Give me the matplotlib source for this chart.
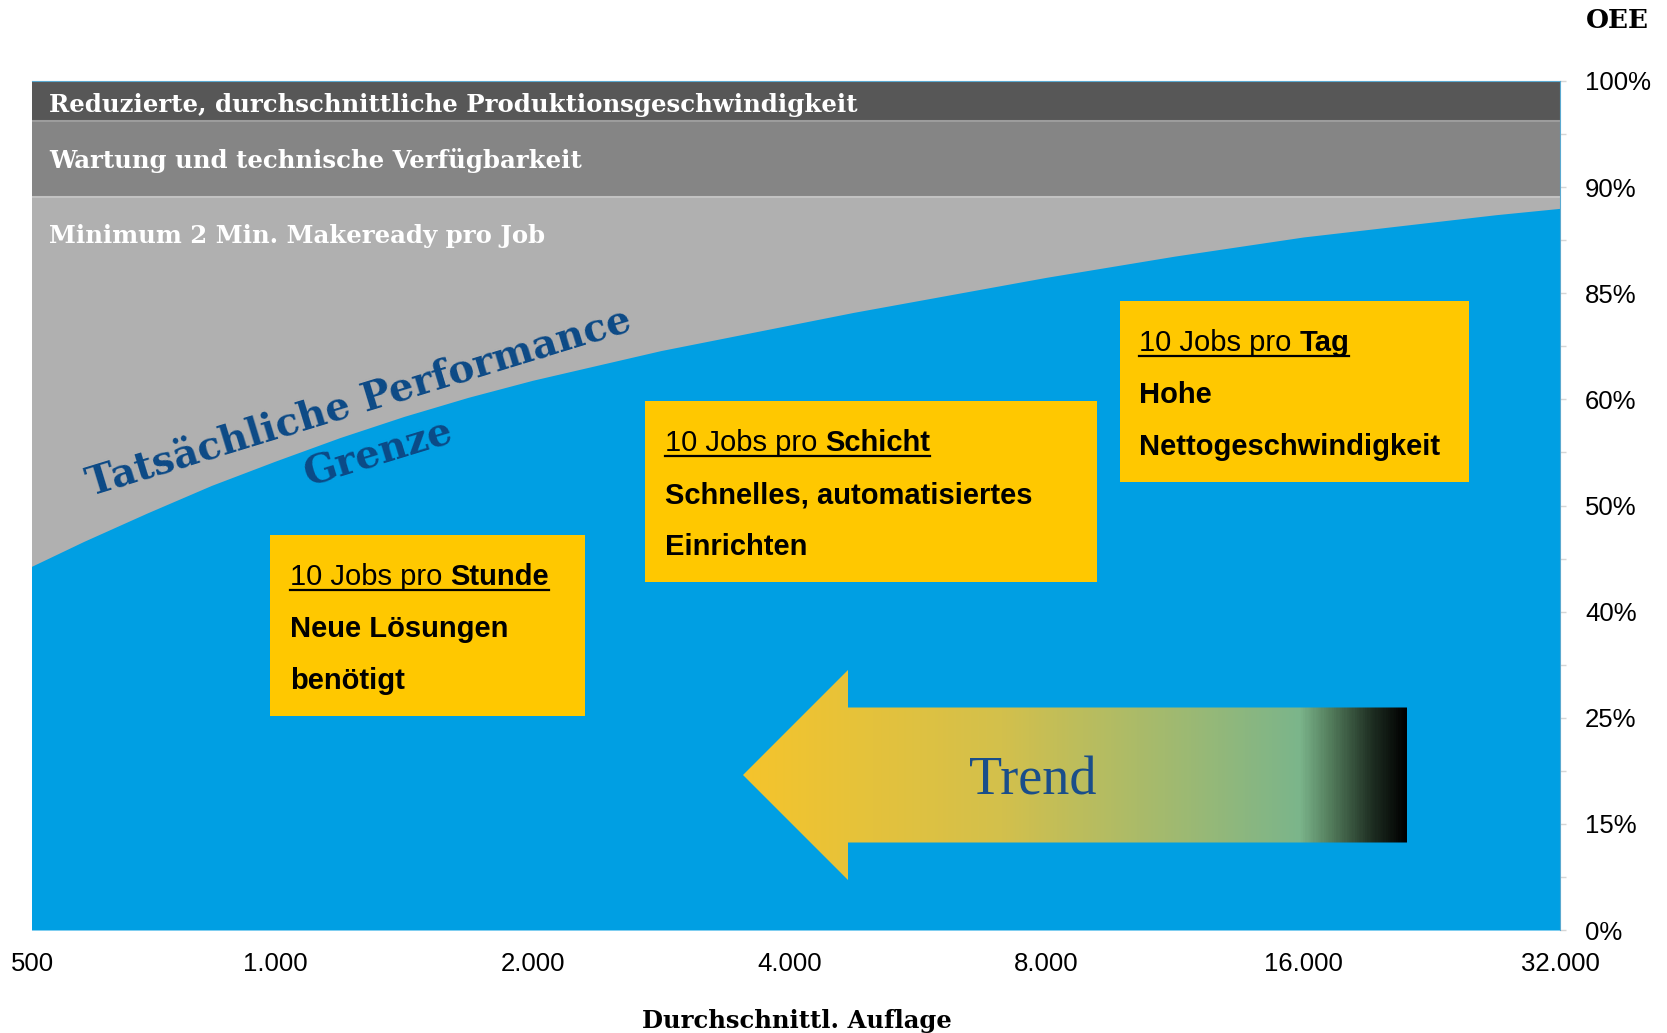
import matplotlib
matplotlib.use("Agg")
import matplotlib.pyplot as plt
import numpy as np
from matplotlib.patches import Rectangle, Polygon
from matplotlib.colors import LinearSegmentedColormap
from matplotlib.lines import Line2D

# ---------------- data ----------------
auflage = [500, 595, 707, 841, 1000, 1189, 1414, 1682, 2000, 2378, 2828, 3364, 4000,
           4757, 5657, 6727, 8000, 9514, 11314, 13454, 16000, 19027, 22627, 26909, 32000]
grenze = [3.37, 3.66, 3.93, 4.19, 4.42, 4.64, 4.84, 5.02, 5.18, 5.32, 5.46, 5.58, 5.70,
          5.82, 5.93, 6.04, 6.15, 6.25, 6.35, 6.44, 6.53, 6.60, 6.67, 6.74, 6.80]
wartung_unten = 6.905
speed_unten = 7.62
y_top = 8
x_min, x_max = 518, 32000

x_ticks = [x_min, 1000, 2000, 4000, 8000, 16000, 32000]
x_tick_labels = ["500", "1.000", "2.000", "4.000", "8.000", "16.000", "32.000"]
y_ticks = [0, 1, 2, 3, 4, 5, 6, 7, 8]
y_tick_labels = ["0%", "15%", "25%", "40%", "50%", "60%", "85%", "90%", "100%"]

band_labels = ["Reduzierte, durchschnittliche Produktionsgeschwindigkeit",
               "Wartung und technische Verfügbarkeit",
               "Minimum 2 Min. Makeready pro Job"]

box_head = ["10 Jobs pro", "10 Jobs pro", "10 Jobs pro"]
box_bold = ["Stunde", "Schicht", "Tag"]
box_lines = [["Neue Lösungen", "benötigt"],
             ["Schnelles, automatisiertes", "Einrichten"],
             ["Hohe", "Nettogeschwindigkeit"]]

# ---------------- style ----------------
BLUE = "#009FE3"
DARK = "#575757"
MID = "#858585"
LIGHT = "#B0B0B0"
YELLOW = "#FFC800"
NAVY = "#0C4A86"
SANS = "Liberation Sans"
SERIF = "DejaVu Serif"

W, H = 1667, 1033
fig = plt.figure(figsize=(W / 100, H / 100), dpi=100)
fig.patch.set_facecolor("white")

L, R, T, B = 32, 1560, 81, 930
ax = fig.add_axes([L / W, (H - B) / H, (R - L) / W, (B - T) / H])
ax.set_xscale("log", base=2)
ax.set_xlim(x_min, x_max)
ax.set_ylim(0, y_top)
ax.set_facecolor(BLUE)

ax.fill_between(auflage, 0, grenze, color=BLUE, lw=0, zorder=1)
ax.fill_between(auflage, grenze, wartung_unten, color=LIGHT, lw=0, zorder=1)
ax.axhspan(wartung_unten, speed_unten, color=MID, lw=0, zorder=1)
ax.axhspan(speed_unten, y_top, color=DARK, lw=0, zorder=1)
ax.axhline(wartung_unten, color="#C2C2C2", lw=1.5, zorder=2)
ax.axhline(speed_unten, color="#9C9C9C", lw=1.5, zorder=2)

for s in ["left", "bottom"]:
    ax.spines[s].set_visible(False)
for s in ["top", "right"]:
    ax.spines[s].set_color("#5AA9D0")
    ax.spines[s].set_linewidth(0.8)

ax.set_xticks(x_ticks)
ax.set_xticklabels(x_tick_labels, family=SANS, fontsize=18.5)
ax.xaxis.set_minor_locator(matplotlib.ticker.NullLocator())
ax.tick_params(axis="x", length=0, pad=16)

ax.yaxis.tick_right()
ax.set_yticks(y_ticks)
ax.set_yticklabels(y_tick_labels, family=SANS, fontsize=18.5)
ax.set_yticks([v + 0.5 for v in y_ticks[:-1]], minor=True)
ax.tick_params(axis="y", which="both", length=4, width=1, color="#D6D6D6", pad=14)

# ---------------- overlay (pixel coordinates) ----------------
ov = fig.add_axes([0, 0, 1, 1], zorder=5)
ov.patch.set_visible(False)
ov.axis("off")
ov.set_xlim(0, W)
ov.set_ylim(H, 0)
ov.set_autoscale_on(False)

# band labels
band_base = [112, 168, 243]
for txt, yb in zip(band_labels, band_base):
    ov.text(49, yb, txt, family=SERIF, weight="bold", fontsize=17.6, color="white",
            va="baseline", ha="left")

# curved-boundary label
ov.text(362, 413, "Tatsächliche Performance", family=SERIF, weight="bold",
        fontsize=28, color=NAVY, rotation=17, rotation_mode="anchor",
        ha="center", va="baseline")
ov.text(382, 464, "Grenze", family=SERIF, weight="bold",
        fontsize=28, color=NAVY, rotation=17, rotation_mode="anchor",
        ha="center", va="baseline")

# yellow boxes
box_rects = [(270, 535, 585, 716), (645, 401, 1097, 582), (1120, 301, 1469, 482)]
text_left = [290, 665, 1139]
renderer = fig.canvas.get_renderer()
FS = 21
space_px = 0.278 * FS * 100 / 72
for (x0, y0, x1, y1), tx, head, bold, lines in zip(box_rects, text_left, box_head, box_bold, box_lines):
    ov.add_patch(Rectangle((x0, y0), x1 - x0, y1 - y0, facecolor=YELLOW, edgecolor="none"))
    yb = y0 + 50
    t1 = ov.text(tx, yb, head, family=SANS, fontsize=FS, color="black",
                 va="baseline", ha="left")
    bb = t1.get_window_extent(renderer)
    x_end = bb.x1 + space_px
    t2 = ov.text(x_end, yb, bold, family=SANS, fontsize=FS, weight="bold",
                 color="black", va="baseline", ha="left")
    bb2 = t2.get_window_extent(renderer)
    ov.add_line(Line2D([tx, bb2.x1], [yb + 5, yb + 5], color="black", lw=1.6))
    for i, ln in enumerate(lines):
        ov.text(tx, yb + 52 * (i + 1), ln, family=SANS, fontsize=FS, weight="bold",
                color="black", va="baseline", ha="left")

# trend arrow with gradient
ax_tip, ax_head, ax_right = 743, 848, 1407
yc, head_half, shaft_half = 775, 105, 67.5
arrow_pts = [(ax_tip, yc), (ax_head, yc - head_half), (ax_head, yc - shaft_half),
             (ax_right, yc - shaft_half), (ax_right, yc + shaft_half),
             (ax_head, yc + shaft_half), (ax_head, yc + head_half)]
poly = Polygon(arrow_pts, closed=True, facecolor="none", edgecolor="none")
ov.add_patch(poly)
cmap = LinearSegmentedColormap.from_list(
    "trend",
    [(0.0, "#F5C42C"), (0.39, "#D3C04C"), (0.84, "#7BB58B"),
     (0.885, "#557F5E"), (0.95, "#1E2E22"), (1.0, "#000000")])
grad = np.linspace(0, 1, 600).reshape(1, -1)
im = ov.imshow(grad, cmap=cmap, extent=[ax_tip, ax_right, yc + head_half, yc - head_half],
               aspect="auto", interpolation="bilinear", zorder=3)
im.set_clip_path(poly)
ov.text(1033, 781, "Trend", family="Liberation Serif", fontsize=39, color="#1A4E8A",
        ha="center", va="center", zorder=4)

# axis titles
ov.text(1586, 20, "OEE", family=SERIF, weight="bold", fontsize=19, color="black",
        ha="left", va="center")
ov.text(797, 1021, "Durchschnittl. Auflage", family=SERIF, weight="bold", fontsize=17.5,
        color="black", ha="center", va="center")

ov.set_xlim(0, W)
ov.set_ylim(H, 0)

fig.savefig("out.png", dpi=100)
